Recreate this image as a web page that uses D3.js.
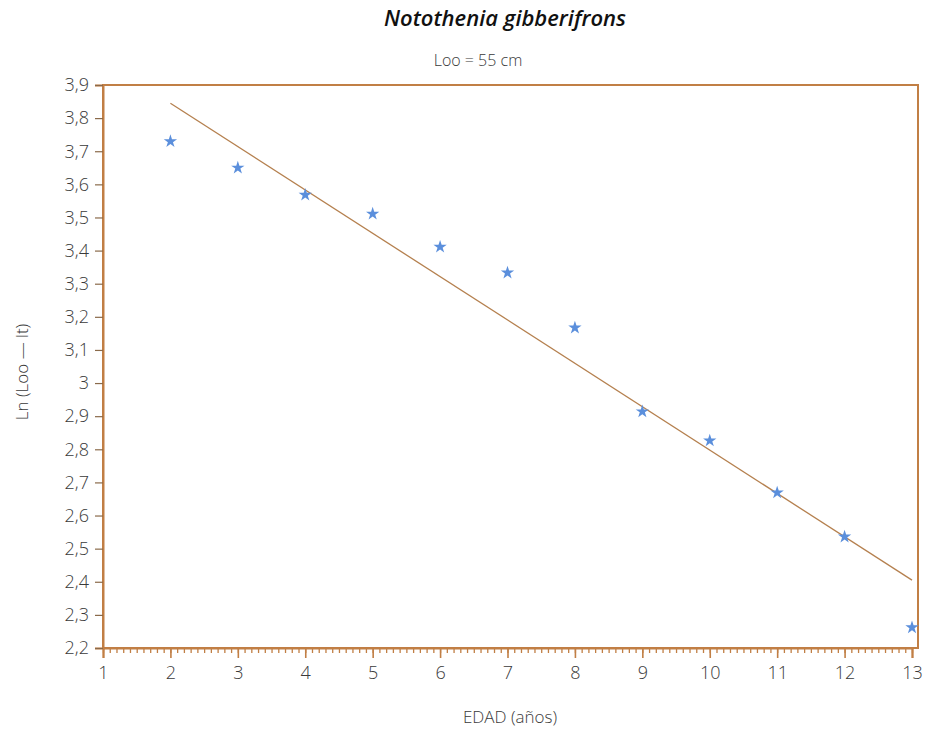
<!DOCTYPE html>
<html>
<head>
<meta charset="utf-8">
<script src="https://cdn.jsdelivr.net/npm/d3@7"></script>
<style>
  body { margin: 0; background: #fff; }
  text { font-family: "Open Sans", "DejaVu Sans", sans-serif; }
  .tick text { fill: #3a3a3a; font-weight: 300; }
</style>
</head>
<body>
<div id="chart"></div>
<script>
// data
const ages = [2, 3, 4, 5, 6, 7, 8, 9, 10, 11, 12, 13];
const lnValues = [3.73, 3.65, 3.568, 3.511, 3.411, 3.333, 3.167, 2.914, 2.826, 2.669, 2.536, 2.262];
// fitted line end points
const fitAges = [2, 13];
const fitValues = [3.845, 2.405];
const xTicks = [1, 2, 3, 4, 5, 6, 7, 8, 9, 10, 11, 12, 13];
const yTicks = [2.2, 2.3, 2.4, 2.5, 2.6, 2.7, 2.8, 2.9, 3, 3.1, 3.2, 3.3, 3.4, 3.5, 3.6, 3.7, 3.8, 3.9];

const width = 925;
const height = 730;
const plotLeft = 103, plotRight = 912, plotTop = 85, plotBottom = 648;
const frameColor = "#c17f45";

const svg = d3.select("#chart")
  .append("svg")
    .attr("width", width)
    .attr("height", height);

const x = d3.scaleLinear().domain([1, 13]).range([plotLeft, plotRight]);
const y = d3.scaleLinear().domain([2.2, 3.9]).range([plotBottom, plotTop]);

// frame
svg.append("rect")
  .attr("x", plotLeft)
  .attr("y", plotTop)
  .attr("width", plotRight + 6 - plotLeft)
  .attr("height", plotBottom - plotTop)
  .attr("fill", "none")
  .attr("stroke", frameColor)
  .attr("stroke-width", 2);

// minor ticks on x axis
svg.append("g")
  .attr("transform", `translate(0,${plotBottom})`)
  .call(d3.axisBottom(x).tickValues(d3.range(10, 131).map(d => d / 10)).tickSize(5).tickFormat(""))
  .call(g => g.select(".domain").remove())
  .call(g => g.selectAll("line").attr("stroke", frameColor).attr("stroke-width", 1.3));

// major ticks x
svg.append("g")
  .attr("transform", `translate(0,${plotBottom})`)
  .call(d3.axisBottom(x).tickValues(xTicks).tickSize(10).tickPadding(8).tickFormat(d3.format("d")))
  .call(g => g.select(".domain").attr("stroke", frameColor).attr("stroke-width", 2))
  .call(g => g.selectAll("line").attr("stroke", frameColor).attr("stroke-width", 1.6))
  .call(g => g.selectAll("text").attr("font-size", 18));

// y axis
svg.append("g")
  .attr("transform", `translate(${plotLeft},0)`)
  .call(d3.axisLeft(y).tickValues(yTicks).tickSize(8).tickPadding(6)
    .tickFormat(d => d3.format(".1~f")(d).replace(".", ",")))
  .call(g => g.select(".domain").attr("stroke", frameColor).attr("stroke-width", 2))
  .call(g => g.selectAll("line").attr("stroke", "#8a6a4a").attr("stroke-width", 1.2))
  .call(g => g.selectAll("text").attr("font-size", 18));

// fitted line
svg.append("path")
  .datum(fitAges.map((a, i) => [a, fitValues[i]]))
  .attr("fill", "none")
  .attr("stroke", "#b5804f")
  .attr("stroke-width", 1.3)
  .attr("d", d3.line().x(d => x(d[0])).y(d => y(d[1])));

// points
svg.append("g")
  .selectAll("path")
  .data(ages.map((a, i) => [a, lnValues[i]]))
  .join("path")
    .attr("transform", d => `translate(${x(d[0])},${y(d[1])})`)
    .attr("d", d3.symbol(d3.symbolStar, 55))
    .attr("fill", "#5b8fdc");

// title
svg.append("text")
  .attr("x", 505)
  .attr("y", 26)
  .attr("text-anchor", "middle")
  .attr("font-size", 22)
  .attr("font-weight", 600)
  .attr("font-style", "italic")
  .attr("fill", "#111")
  .text("Notothenia gibberifrons");

svg.append("text")
  .attr("x", 478)
  .attr("y", 66)
  .attr("text-anchor", "middle")
  .attr("font-size", 16)
  .attr("font-weight", 300)
  .attr("fill", "#3a3a3a")
  .text("Loo = 55 cm");

// axis titles
svg.append("text")
  .attr("x", 510)
  .attr("y", 723)
  .attr("text-anchor", "middle")
  .attr("font-size", 17)
  .attr("font-weight", 300)
  .attr("fill", "#3a3a3a")
  .text("EDAD (años)");

svg.append("text")
  .attr("transform", "translate(28,372) rotate(-90)")
  .attr("text-anchor", "middle")
  .attr("font-size", 17)
  .attr("font-weight", 300)
  .attr("fill", "#3a3a3a")
  .text("Ln (Loo — lt)");
</script>
</body>
</html>
